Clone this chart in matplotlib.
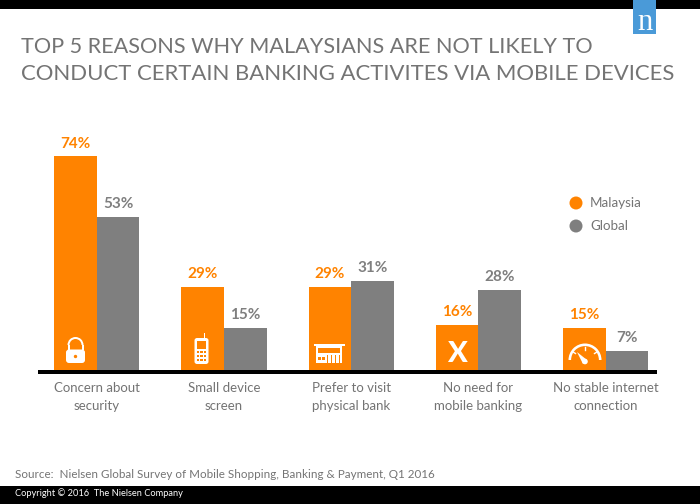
import matplotlib
matplotlib.use("Agg")
import matplotlib.pyplot as plt
from matplotlib.patches import Rectangle, Circle, Wedge, FancyBboxPatch, Polygon

categories = ["Concern about\nsecurity", "Small device\nscreen", "Prefer to visit\nphysical bank",
              "No need for\nmobile banking", "No stable internet\nconnection"]
malaysia = [74, 29, 29, 16, 15]
global_vals = [53, 15, 31, 28, 7]
title_lines = ["TOP 5 REASONS WHY MALAYSIANS ARE NOT LIKELY TO",
               "CONDUCT CERTAIN BANKING ACTIVITES VIA MOBILE DEVICES"]
source = "Source:  Nielsen Global Survey of Mobile Shopping, Banking & Payment, Q1 2016"
copyright_text = "Copyright © 2016  The Nielsen Company"

ORANGE = "#ff8300"
GRAY = "#7f7f7f"
TEXT = "#747474"
W, H = 700, 504
BASE = 371       # baseline in pixels
PX_PER_PCT = 2.9
X0 = 96.7        # centre of first group
STEP = 127.25
BAR = 42.6 / STEP

plt.rcParams["font.family"] = ["Lato", "DejaVu Sans"]

fig = plt.figure(figsize=(7, 5.04), dpi=100)

# chart axes cover the whole figure, scales line up with the pixels
ax = fig.add_axes([0, 0, 1, 1])
ax.set_xlim(-X0 / STEP, (W - X0) / STEP)
ax.set_ylim(-(H - BASE) / PX_PER_PCT, BASE / PX_PER_PCT)
ax.axis("off")

xs = list(range(len(categories)))
ax.bar([x - BAR / 2 for x in xs], malaysia, BAR, color=ORANGE)
ax.bar([x + BAR / 2 for x in xs], global_vals, BAR, color=GRAY)

for x, m, g, label in zip(xs, malaysia, global_vals, categories):
    ax.text(x - BAR / 2, m + 2.0, f"{m}%", color=ORANGE, fontsize=11, fontweight="bold",
            ha="center", va="bottom")
    ax.text(x + BAR / 2, g + 2.0, f"{g}%", color=GRAY, fontsize=11, fontweight="bold",
            ha="center", va="bottom")
    ax.text(x, -3.9, label, color=TEXT, fontsize=9.5, ha="center", va="top", linespacing=1.55)

# overlay in pixel coordinates for the page furniture and icons
pg = fig.add_axes([0, 0, 1, 1])
pg.set_xlim(0, W)
pg.set_ylim(H, 0)
pg.axis("off")
pg.patch.set_alpha(0)

pg.add_patch(Rectangle((0, 0), W, 9, color="black", lw=0))
pg.add_patch(Rectangle((0, 486), W, 18, color="black", lw=0))
pg.add_patch(Rectangle((633, 0), 23, 34, color="#4a9ad8", lw=0))
pg.text(644.5, 22, "n", color="white", fontsize=22, family="Liberation Serif", ha="center", va="center")
pg.add_patch(Rectangle((38, 370), 619, 3.6, color="black", lw=0))

pg.text(21, 47, title_lines[0], color=TEXT, fontsize=15.6, va="center")
pg.text(21, 73.5, title_lines[1], color=TEXT, fontsize=15.9, va="center")
pg.text(15, 474, source, color=TEXT, fontsize=8.33, va="center")
pg.text(15, 493.5, copyright_text, color="white", fontsize=6.7, va="center")

# legend
pg.add_patch(Circle((576, 203), 6.5, color=ORANGE, lw=0))
pg.add_patch(Circle((576, 226), 6.5, color=GRAY, lw=0))
pg.text(590, 203, "Malaysia", color=TEXT, fontsize=9.6, va="center")
pg.text(590, 226, "Global", color=TEXT, fontsize=9.6, va="center")

# padlock
pg.add_patch(Wedge((75.5, 345), 8, 180, 360, width=2, color="white", lw=0))
pg.add_patch(Rectangle((67.5, 344.5), 2, 5, color="white", lw=0))
pg.add_patch(Rectangle((81.5, 344.5), 2, 5, color="white", lw=0))
pg.add_patch(FancyBboxPatch((66, 349.5), 19, 13.5, boxstyle="round,pad=0,rounding_size=3", color="white", lw=0))
pg.add_patch(Circle((75.5, 356.5), 1.7, color=ORANGE, lw=0))

# phone
pg.add_patch(FancyBboxPatch((194.5, 338), 14, 26, boxstyle="round,pad=0,rounding_size=2.5", color="white", lw=0))
pg.add_patch(Rectangle((203.5, 333), 1.6, 6, color="white", lw=0))
pg.add_patch(Rectangle((197, 341), 9, 7.5, color=ORANGE, lw=0))
for row in range(3):
    for col in range(3):
        pg.add_patch(Rectangle((197.2 + col * 3.2, 350.5 + row * 4), 2.2, 2.6, color=ORANGE, lw=0))

# bank front
pg.add_patch(Rectangle((313.5, 343.5), 31, 2.5, color="white", lw=0))
pg.add_patch(Rectangle((316, 346), 26, 17, color="white", lw=0))
pg.add_patch(Rectangle((318, 348), 22, 4.5, color=ORANGE, lw=0))
for bx in (317.5, 322):
    pg.add_patch(Rectangle((bx, 357), 3, 3, color=ORANGE, lw=0))
for bx in (327, 331, 335, 339):
    pg.add_patch(Rectangle((bx, 355), 0.9, 8, color=ORANGE, lw=0))

# X mark
pg.text(457, 354, "X", color="white", fontsize=21, fontweight="black", ha="center", va="center")

# gauge
pg.add_patch(Wedge((585, 360), 16.5, 180, 360, width=2.6, color="white", lw=0))
pg.add_patch(Polygon([[577, 352], [587, 360], [583, 364]], color="white", lw=0))
pg.add_patch(Circle((585, 361.5), 2.8, color="white", lw=0))
for tx, ty, dx, dy in [(573, 352, 2.5, 1.5), (585, 347, 0, 3), (597, 352, -2.5, 1.5)]:
    pg.plot([tx, tx + dx], [ty, ty + dy], color="white", lw=1)
pg.set_xlim(0, W)
pg.set_ylim(H, 0)

fig.savefig("out.png", dpi=100)
